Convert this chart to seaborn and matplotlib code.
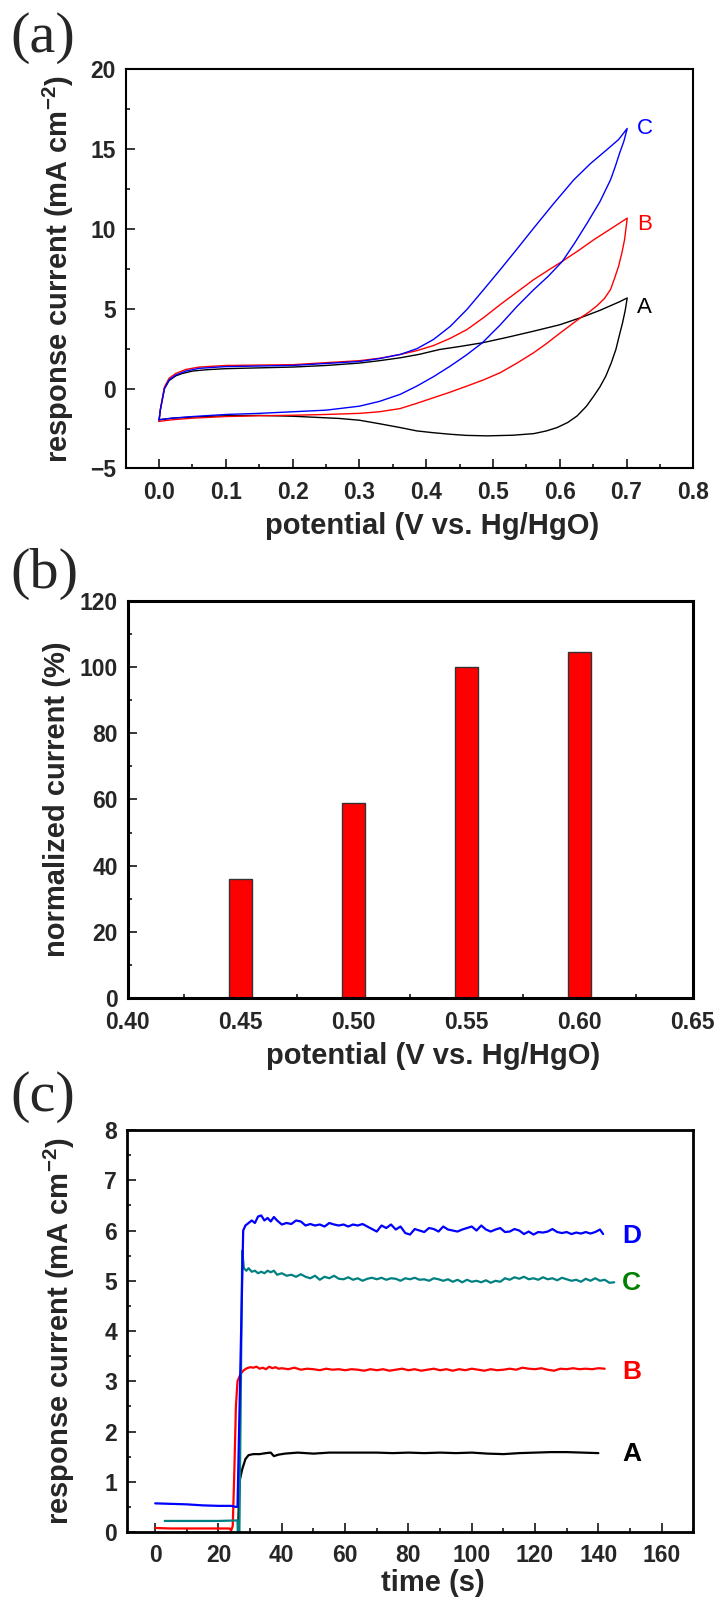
import numpy as np
import pandas as pd
import matplotlib
matplotlib.use("Agg")
import matplotlib.pyplot as plt
from matplotlib.ticker import MultipleLocator
import seaborn as sns

# ---- (a) cyclic voltammograms: forward (upper) and reverse (lower) branches ----
a_up_x = [0, 0.002, 0.008, 0.015, 0.025, 0.035, 0.05, 0.07, 0.1, 0.15, 0.2, 0.25, 0.3, 0.33, 0.361,
          0.39, 0.42, 0.452, 0.484, 0.52, 0.561, 0.6, 0.631, 0.66, 0.69, 0.701]
a_up_y = [-1.95, -1.3, 0.0, 0.5, 0.8, 0.95, 1.1, 1.18, 1.25, 1.3, 1.35, 1.45, 1.6, 1.75, 1.93,
          2.15, 2.45, 2.65, 2.87, 3.2, 3.6, 4.0, 4.44, 4.9, 5.45, 5.68]
a_lo_x = [0.701, 0.698, 0.694, 0.689, 0.684, 0.677, 0.669, 0.66, 0.651, 0.64, 0.626, 0.612, 0.596,
          0.58, 0.561, 0.53, 0.491, 0.46, 0.436, 0.41, 0.386, 0.361, 0.33, 0.3, 0.27, 0.25, 0.2, 0.15,
          0.1, 0.05, 0.02, 0]
a_lo_y = [5.68, 4.9, 4.12, 3.3, 2.45, 1.6, 0.79, 0.1, -0.46, -1.1, -1.71, -2.12, -2.44,
          -2.65, -2.82, -2.92, -2.96, -2.93, -2.86, -2.76, -2.65, -2.44, -2.2, -1.98, -1.87, -1.83, -1.73, -1.68,
          -1.7, -1.78, -1.85, -1.95]

b_up_x = [0, 0.002, 0.008, 0.015, 0.025, 0.04, 0.06, 0.1, 0.2, 0.3, 0.33, 0.361, 0.386, 0.411, 0.436,
          0.461, 0.486, 0.511, 0.536, 0.561, 0.584, 0.604, 0.628, 0.651, 0.676, 0.701]
b_up_y = [-2.05, -1.3, 0.1, 0.65, 0.95, 1.2, 1.35, 1.45, 1.5, 1.75, 1.9, 2.14, 2.38, 2.7, 3.15,
          3.7, 4.45, 5.27, 6.05, 6.83, 7.45, 7.98, 8.65, 9.33, 10.0, 10.68]
b_lo_x = [0.701, 0.699, 0.697, 0.693, 0.688, 0.682, 0.676, 0.667, 0.656, 0.644, 0.631, 0.617, 0.601,
          0.581, 0.561, 0.536, 0.511, 0.486, 0.461, 0.436, 0.411, 0.386, 0.361, 0.33, 0.3, 0.25, 0.2,
          0.15, 0.1, 0.05, 0.02, 0]
b_lo_y = [10.68, 10.0, 9.33, 8.5, 7.66, 6.9, 6.21, 5.65, 5.2, 4.8, 4.44, 4.0, 3.5,
          2.85, 2.25, 1.6, 1.0, 0.55, 0.16, -0.22, -0.57, -0.92, -1.25, -1.45, -1.55, -1.62, -1.67,
          -1.7, -1.75, -1.85, -1.95, -2.05]

c_up_x = [0, 0.002, 0.008, 0.015, 0.025, 0.04, 0.06, 0.1, 0.2, 0.3, 0.33, 0.361, 0.386, 0.411, 0.436,
          0.461, 0.486, 0.511, 0.536, 0.561, 0.591, 0.621, 0.646, 0.67, 0.688, 0.701]
c_up_y = [-1.95, -1.3, 0.0, 0.55, 0.85, 1.1, 1.27, 1.38, 1.45, 1.7, 1.88, 2.14, 2.5, 3.08, 3.9,
          4.96, 6.2, 7.46, 8.75, 10.06, 11.6, 13.08, 14.1, 14.95, 15.6, 16.3]
c_lo_x = [0.701, 0.696, 0.69, 0.683, 0.676, 0.66, 0.641, 0.622, 0.604, 0.583, 0.561, 0.536, 0.511,
          0.484, 0.46, 0.436, 0.411, 0.386, 0.361, 0.33, 0.3, 0.25, 0.2, 0.15, 0.1, 0.05, 0.02, 0]
c_lo_y = [16.3, 15.5, 14.8, 13.9, 13.08, 11.7, 10.37, 9.1, 7.98, 7.05, 6.2, 5.15, 4.0,
          2.87, 2.1, 1.41, 0.75, 0.16, -0.36, -0.8, -1.1, -1.35, -1.45, -1.55, -1.62, -1.75, -1.85, -1.95]

cv_names = ["A", "B", "C"]
cv_colors = ["black", "red", "blue"]
cv_label_y = [5.1, 10.3, 16.3]

# ---- (b) normalized current vs potential ----
bar_potential = [0.45, 0.50, 0.55, 0.60]
bar_current = [36, 59, 100, 104.5]

# ---- (c) current-time response ----
tA = [26.2, 26.6, 27.5, 28.5, 29.5, 31, 33, 35, 36.5, 37.5, 39, 41, 43, 45, 50, 55, 60, 65,
      70, 75, 80, 85, 90, 95, 100, 105, 110, 115, 120, 125, 130, 135, 140]
iA = [0.05, 1.0, 1.25, 1.45, 1.53, 1.55, 1.55, 1.57, 1.58, 1.51, 1.54, 1.56, 1.57, 1.58, 1.56, 1.58, 1.58, 1.58,
      1.58, 1.57, 1.58, 1.57, 1.58, 1.57, 1.58, 1.56, 1.55, 1.57, 1.58, 1.59, 1.59, 1.58, 1.57]

tB = [0, 5, 10, 15, 20, 23.5, 24, 24.5, 25, 25.5, 26, 27, 28, 29, 30, 31, 32, 33, 34, 35, 36, 37, 38, 39,
      40, 42, 44, 46, 48, 50, 52, 54, 56, 58, 60, 62, 64, 66, 68, 70, 72, 74, 76, 78, 80, 82, 84, 86,
      88, 90, 92, 94, 96, 98, 100, 102, 104, 106, 108, 110, 112, 114, 116, 118, 120, 122, 124, 126,
      128, 130, 132, 134, 136, 138, 140, 142]
iB = [0.08, 0.07, 0.07, 0.07, 0.07, 0.07, 0.03, 0.12, 1.2, 2.5, 3.0, 3.15, 3.22, 3.26, 3.28, 3.27, 3.29,
      3.25, 3.27, 3.24, 3.29, 3.26, 3.28, 3.25, 3.26, 3.24, 3.27, 3.23, 3.25, 3.24, 3.22, 3.25, 3.23,
      3.24, 3.22, 3.24, 3.23, 3.21, 3.24, 3.22, 3.24, 3.21, 3.23, 3.25, 3.22, 3.24, 3.21, 3.23, 3.25,
      3.22, 3.24, 3.21, 3.24, 3.22, 3.25, 3.23, 3.21, 3.24, 3.22, 3.23, 3.25, 3.23, 3.27, 3.25, 3.24,
      3.26, 3.23, 3.21, 3.25, 3.24, 3.26, 3.24, 3.25, 3.24, 3.26, 3.25]

tC = [3, 10, 20, 26, 26.1, 26.6, 27.5, 28.0, 28.8, 29.5, 30.5, 31.5, 32.5, 33.5, 34.5, 35.5, 36.5,
      37.5, 38.5, 40, 41.5, 43, 44.5, 46, 47.5, 49, 50.5, 52, 53.5, 55, 56.5, 58, 59.5, 61, 62.5, 64,
      65.5, 67, 68.5, 70, 71.5, 73, 74.5, 76, 77.5, 79, 80.5, 82, 83.5, 85, 86.5, 88, 89.5, 91, 92.5,
      94, 95.5, 97, 98.5, 100, 101.5, 103, 104.5, 106, 107.5, 109, 110.5, 112, 113.5, 115, 116.5, 118,
      119.5, 121, 122.5, 124, 125.5, 127, 128.5, 130, 131.5, 133, 134.5, 136, 137.5, 139, 140.5, 142,
      143.5, 145]
iC = [0.22, 0.22, 0.22, 0.23, 0.0, 0.0, 5.6, 5.25, 5.2, 5.25, 5.18, 5.2, 5.15, 5.18, 5.15, 5.2, 5.17,
      5.2, 5.12, 5.15, 5.1, 5.12, 5.08, 5.13, 5.08, 5.05, 5.1, 5.02, 5.08, 5.05, 5.1, 5.04, 5.03, 5.07,
      5.02, 5.05, 5.0, 5.04, 5.06, 5.03, 5.06, 5.02, 5.05, 5.04, 5.0, 5.05, 5.03, 5.06, 5.02, 5.03, 5.0,
      5.05, 5.03, 5.0, 5.03, 4.98, 5.02, 4.97, 5.02, 4.98, 5.0, 4.97, 5.01, 4.96, 5.0, 4.98, 5.05, 5.02,
      5.07, 5.04, 5.08, 5.03, 5.05, 5.02, 5.07, 5.03, 5.05, 5.01, 5.06, 5.03, 5.0, 5.02, 4.98, 5.04,
      5.0, 5.05, 5.0, 5.02, 4.96, 4.97]

tD = [0, 5, 10, 15, 20, 24, 25.5, 26.0, 27.8, 28.5, 29.5, 30.5, 31.5, 32.5, 33.5, 34.5, 35.5, 36.5,
      37.5, 38.5, 40, 41.5, 43, 44.5, 46, 47.5, 49, 50.5, 52, 53.5, 55, 56.5, 58, 59.5, 61, 62.5, 64,
      65.5, 67, 68.5, 70, 71.5, 73, 74.5, 76, 77.5, 79, 80.5, 82, 83.5, 85, 86.5, 88, 89.5, 91, 92.5,
      94, 95.5, 97, 98.5, 100, 101.5, 103, 104.5, 106, 107.5, 109, 110.5, 112, 113.5, 115, 116.5, 118,
      119.5, 121, 122.5, 124, 125.5, 127, 128.5, 130, 131.5, 133, 134.5, 136, 137.5, 139, 140.5, 141.5]
iD = [0.57, 0.56, 0.55, 0.53, 0.52, 0.52, 0.50, 0.5, 6.0, 6.1, 6.15, 6.2, 6.15, 6.28, 6.3, 6.2, 6.25,
      6.18, 6.27, 6.2, 6.12, 6.15, 6.13, 6.2, 6.18, 6.1, 6.13, 6.1, 6.12, 6.08, 6.15, 6.12, 6.1, 6.12,
      6.08, 6.12, 6.1, 6.13, 6.08, 6.03, 5.98, 6.1, 6.05, 6.12, 6.02, 6.08, 5.95, 5.92, 6.03, 6.0, 5.97,
      6.05, 6.03, 5.98, 6.08, 6.02, 6.0, 5.98, 6.02, 6.05, 6.08, 6.0, 6.1, 6.02, 5.98, 6.02, 6.05, 5.97,
      5.98, 6.03, 6.0, 5.93, 5.98, 5.92, 5.97, 5.96, 5.98, 6.03, 5.97, 5.95, 5.97, 5.93, 5.96, 5.94,
      5.97, 5.94, 5.97, 6.02, 5.93]

it_names = ["A", "B", "C", "D"]
it_colors = ["black", "red", "#008080", "blue"]
it_text_colors = ["black", "red", "#008000", "blue"]
it_label_y = [1.55, 3.19, 4.96, 5.9]

# ---- style ----
sns.set_style("ticks")
plt.rcParams["font.family"] = ["Liberation Sans", "DejaVu Sans"]
plt.rcParams["font.weight"] = "bold"
plt.rcParams["axes.labelweight"] = "bold"
plt.rcParams["mathtext.fontset"] = "custom"
plt.rcParams["mathtext.rm"] = "Liberation Sans:bold"
plt.rcParams["mathtext.default"] = "rm"

YLABEL_CUR = r"response current (mA cm$^{-2}$)"
XLABEL_POT = "potential (V vs. Hg/HgO)"
LABEL_SIZE = 21

fig = plt.figure(figsize=(7.15, 16.02), dpi=100)
ax_a = fig.add_axes([0.1758, 0.7076, 0.7939, 0.2491])
ax_b = fig.add_axes([0.1786, 0.3770, 0.7902, 0.2480])
ax_c = fig.add_axes([0.1772, 0.0437, 0.7925, 0.2509])


def style_axis(ax, lw):
    for s in ax.spines.values():
        s.set_linewidth(lw)
        s.set_color("black")
    ax.tick_params(which="both", direction="in", top=False, right=False, width=1.3)
    ax.tick_params(which="major", length=6.7, labelsize=16.5)
    ax.tick_params(axis="x", which="major", pad=9)
    ax.tick_params(axis="y", which="major", pad=7)
    ax.tick_params(which="minor", length=3.2)


# (a)
cv_data = [
    (a_up_x + a_lo_x, a_up_y + a_lo_y),
    (b_up_x + b_lo_x, b_up_y + b_lo_y),
    (c_up_x + c_lo_x, c_up_y + c_lo_y),
]
for (xs, ys), name, col, ly in zip(cv_data, cv_names, cv_colors, cv_label_y):
    df = pd.DataFrame({"E": xs, "I": ys})
    sns.lineplot(data=df, x="E", y="I", sort=False, estimator=None, color=col, lw=1.0, ax=ax_a)
    ax_a.text(0.727, ly, name, color=col, fontsize=16, fontweight="normal", ha="center", va="center")
ax_a.set_xlim(-0.05, 0.8)
ax_a.set_ylim(-5, 20)
ax_a.set_xticks(np.arange(0, 0.81, 0.1))
ax_a.set_xticklabels([f"{v:.1f}" for v in np.arange(0, 0.81, 0.1)])
ax_a.xaxis.set_minor_locator(MultipleLocator(0.05))
ax_a.yaxis.set_major_locator(MultipleLocator(5))
ax_a.yaxis.set_minor_locator(MultipleLocator(2.5))
ax_a.set_xlabel(XLABEL_POT, fontsize=LABEL_SIZE)
ax_a.set_ylabel(YLABEL_CUR, fontsize=LABEL_SIZE)
style_axis(ax_a, 1.5)

# (b)
sns.barplot(x=bar_potential, y=bar_current, native_scale=True, width=0.2, color="red",
            saturation=1, edgecolor="#333333", linewidth=1, ax=ax_b)
ax_b.set_xlim(0.40, 0.65)
ax_b.set_ylim(0, 120)
ax_b.set_xticks(np.arange(0.40, 0.651, 0.05))
ax_b.set_xticklabels([f"{v:.2f}" for v in np.arange(0.40, 0.651, 0.05)])
ax_b.xaxis.set_minor_locator(MultipleLocator(0.025))
ax_b.yaxis.set_major_locator(MultipleLocator(20))
ax_b.yaxis.set_minor_locator(MultipleLocator(10))
ax_b.set_xlabel(XLABEL_POT, fontsize=LABEL_SIZE)
ax_b.set_ylabel("normalized current (%)", fontsize=LABEL_SIZE)
style_axis(ax_b, 2.2)

# (c)
it_data = [(tA, iA), (tB, iB), (tC, iC), (tD, iD)]
for (ts, cs), name, col, tcol, ly in zip(it_data, it_names, it_colors, it_text_colors, it_label_y):
    df = pd.DataFrame({"t": ts, "i": cs})
    sns.lineplot(data=df, x="t", y="i", sort=False, estimator=None, color=col, lw=1.6, ax=ax_c)
    ax_c.text(150.5, ly, name, color=tcol, fontsize=19, fontweight="bold", ha="center", va="center")
ax_c.set_xlim(-9, 170)
ax_c.set_ylim(0, 8)
ax_c.set_xticks(np.arange(0, 161, 20))
ax_c.xaxis.set_minor_locator(MultipleLocator(10))
ax_c.yaxis.set_major_locator(MultipleLocator(1))
ax_c.yaxis.set_minor_locator(MultipleLocator(0.5))
ax_c.set_xlabel("time (s)", fontsize=LABEL_SIZE)
ax_c.set_ylabel(YLABEL_CUR, fontsize=LABEL_SIZE)
style_axis(ax_c, 2.0)

for ax, ylx, xly in zip((ax_a, ax_b, ax_c), (-0.088, -0.10, -0.088), (-0.11, -0.11, -0.093)):
    ax.xaxis.set_label_coords(0.54, xly)
    ax.yaxis.set_label_coords(ylx, 0.5)

# panel letters
for lab, ytop in zip(["(a)", "(b)", "(c)"], [12, 548, 1071]):
    fig.text(0.014, 1 - ytop / 1602, lab, fontsize=42, fontweight="normal", va="top", ha="left",
             family=["Liberation Serif", "DejaVu Serif"])

fig.savefig("out.png", dpi=100)
